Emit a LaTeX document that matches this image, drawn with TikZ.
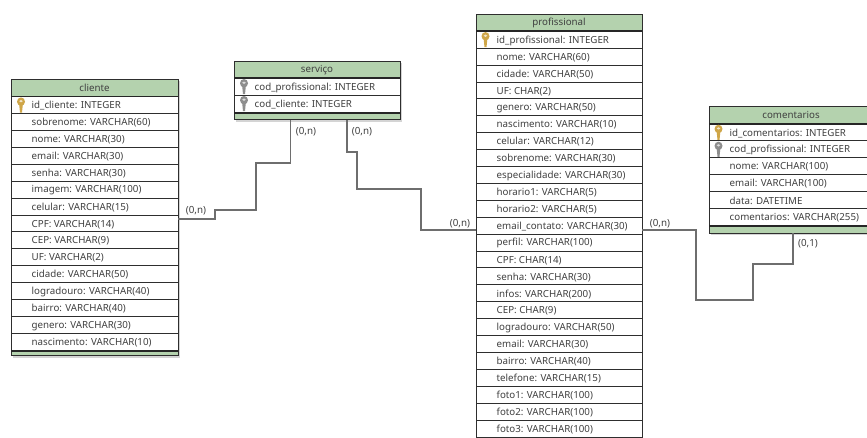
\documentclass[tikz,border=0pt]{standalone}
\usepackage{fontspec}
\setmainfont{Noto Sans}
\definecolor{hdr}{HTML}{B4D2AE}
\definecolor{ink}{HTML}{404040}
\definecolor{rowline}{HTML}{2E2E2E}
\definecolor{wire}{HTML}{6E6E6E}
\definecolor{keygold}{HTML}{CFA648}
\definecolor{keygray}{HTML}{8E8E8E}
\tikzset{
  x=1pt,y=-1pt,
  every node/.style={inner sep=0pt,outer sep=0pt},
  hdrbox/.style={draw=rowline,line width=.9pt,fill=hdr,text=ink,font=\fontsize{9.75}{11}\selectfont,anchor=north west},
  rowbox/.style={draw=rowline,line width=.8pt,fill=white,anchor=north west},
  rowtext/.style={text=ink,font=\fontsize{9.75}{11}\selectfont,anchor=west},
  footbox/.style={draw=rowline,line width=.9pt,fill=hdr,anchor=north west},
  heavy/.style={draw=black!85,line width=1.5pt},
  shade/.style={fill=black!30,draw=none,opacity=.55},
  wirepath/.style={draw=wire,line width=1.1pt},
  card/.style={text=ink,font=\fontsize{9.8}{11}\selectfont},
  pics/tablekey/.style={code={
    \fill[#1] (0,-3.5) ellipse[x radius=4,y radius=4.2];
    \fill[white!70!#1] (0,-4) ellipse[x radius=1.8,y radius=1.2];
    \fill[#1] (-1.8,-0.5) -- (1.8,-0.5) -- (1,7.5) -- (-1,7.5) -- cycle;
  }}
}
% \dbtable{name}{x}{y}{width}{title}{rows}
\newcommand{\dbtable}[6]{%
  \def\tname{#1}\def\tx{#2}\def\ty{#3}\def\tw{#4}%
  \node[hdrbox,minimum width=\tw pt,minimum height=17.2pt] (\tname-h) at (\tx,\ty) {#5};
  \foreach \txt [count=\i] in {#6} {
    \pgfmathsetmacro{\ry}{\ty+17.3+(\i-1)*16.9}
    \node[rowbox,minimum width=\tw pt,minimum height=16.9pt] (\tname-\i) at (\tx,\ry) {};
    \node[rowtext] (\tname-t\i) at ([xshift=20.7pt,yshift=-.8pt]\tname-\i.west) {\txt};
  }
  \draw[heavy] (\tname-h.south west) -- (\tname-h.south east);
}
\begin{document}
\begin{tikzpicture}
\useasboundingbox (0,0) rectangle (867,438);
\clip (0,0) rectangle (867,438);
\fill[white] (0,0) rectangle (867,438);
% soft shadows
\fill[shade] (13,81) rectangle (180,358);
\fill[shade] (236,63) rectangle (402,122);
\fill[shade] (711,109) rectangle (880,235);
% cliente
\dbtable{cli}{11}{79.4}{167}{cliente}{id\_cliente: INTEGER,sobrenome: VARCHAR(60),nome: VARCHAR(30),email: VARCHAR(30),senha: VARCHAR(30),imagem: VARCHAR(100),celular: VARCHAR(15),CPF: VARCHAR(14),CEP: VARCHAR(9),UF: VARCHAR(2),cidade: VARCHAR(50),logradouro: VARCHAR(40),bairro: VARCHAR(40),genero: VARCHAR(30),nascimento: VARCHAR(10)}
\node[footbox,minimum width=167pt,minimum height=5pt] (cli-f) at (11,350.9) {};
\draw[heavy] (cli-f.north west) -- (cli-f.north east);
% servico
\dbtable{srv}{234}{61}{166}{serviço}{cod\_profissional: INTEGER,cod\_cliente: INTEGER}
\node[footbox,minimum width=166pt,minimum height=7pt] (srv-f) at (234,112.8) {};
\draw[heavy] (srv-f.north west) -- (srv-f.north east);
% profissional
\dbtable{pro}{476}{14}{166}{profissional}{id\_profissional: INTEGER,nome: VARCHAR(60),cidade: VARCHAR(50),UF: CHAR(2),genero: VARCHAR(50),nascimento: VARCHAR(10),celular: VARCHAR(12),sobrenome: VARCHAR(30),especialidade: VARCHAR(30),horario1: VARCHAR(5),horario2: VARCHAR(5),email\_contato: VARCHAR(30),perfil: VARCHAR(100),CPF: CHAR(14),senha: VARCHAR(30),infos: VARCHAR(200),CEP: CHAR(9),logradouro: VARCHAR(50),email: VARCHAR(30),bairro: VARCHAR(40),telefone: VARCHAR(15),foto1: VARCHAR(100),foto2: VARCHAR(100),foto3: VARCHAR(100)}
% comentarios
\dbtable{com}{709}{106.7}{164}{comentarios}{id\_comentarios: INTEGER,cod\_profissional: INTEGER,nome: VARCHAR(100),email: VARCHAR(100),data: DATETIME,comentarios: VARCHAR(255)}
\node[footbox,minimum width=164pt,minimum height=7pt] (com-f) at (709,226) {};
\draw[heavy] (com-f.north west) -- (com-f.north east);
% keys
\path (cli-1.west) ++(10,0) pic {tablekey=keygold};
\path (srv-1.west) ++(10,0) pic {tablekey=keygray};
\path (srv-2.west) ++(10,0) pic {tablekey=keygray};
\path (pro-1.west) ++(9.5,0) pic {tablekey=keygold};
\path (com-1.west) ++(9.5,0) pic {tablekey=keygold};
\path (com-2.west) ++(9.5,0) pic {tablekey=keygray};
% connectors
\coordinate (a0) at (178,219); \coordinate (a1) at (215,210); \coordinate (a2) at (256,163); \coordinate (a3) at (290.7,121);
\draw[wirepath] (cli-8.east |- a0) -| (a1) -| (a2) -| (srv-f.south west -| a3);
\coordinate (b0) at (347,152); \coordinate (b1) at (357,189); \coordinate (b2) at (421,230);
\draw[wirepath] (srv-f.south west -| b0) |- (b1 |- b0) |- (b2 |- b1) |- (pro-12.west |- b2);
\coordinate (c1) at (696,230); \coordinate (c2) at (753,300); \coordinate (c3) at (793,264);
\draw[wirepath] (pro-12.east |- c1) -| (c2 -| c1) |- (c2) |- (c3) -- (com-f.south west -| c3);
% cardinalities
\node[card] (l1) at (196,210.5) {(0,n)};
\node[card] (l2) at (306,132) {(0,n)};
\node[card] (l3) at (362,132) {(0,n)};
\node[card] (l4) at (460,224) {(0,n)};
\node[card] (l5) at (660,224) {(0,n)};
\node[card] (l6) at (808,244) {(0,1)};
\end{tikzpicture}
\end{document}
